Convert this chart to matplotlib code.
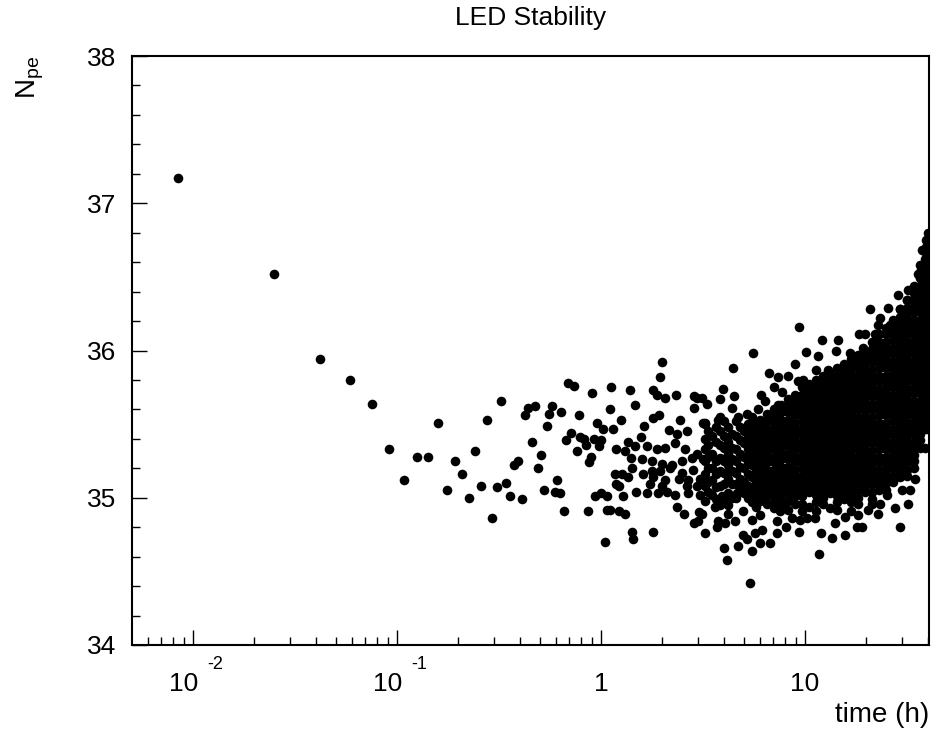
import numpy as np
import matplotlib
matplotlib.use('Agg')
import matplotlib.pyplot as plt
from matplotlib.ticker import FixedLocator, MultipleLocator, LogLocator, NullFormatter

plt.rcParams['font.family'] = ['Liberation Sans', 'DejaVu Sans']
plt.rcParams['mathtext.fontset'] = 'custom'
plt.rcParams['mathtext.rm'] = 'Liberation Sans'
plt.rcParams['mathtext.it'] = 'Liberation Sans'

# first hour, one point per minute
early_t = [0.00844, 0.0249, 0.042, 0.0589, 0.0754, 0.0916, 0.1086, 0.125, 0.142, 0.158,
           0.175, 0.192, 0.209, 0.225, 0.242, 0.259, 0.275, 0.292, 0.308, 0.325,
           0.342, 0.358, 0.375, 0.391, 0.410, 0.426, 0.440, 0.459, 0.477, 0.491,
           0.509, 0.526, 0.542, 0.558, 0.575, 0.593, 0.607, 0.628, 0.639, 0.656,
           0.676, 0.692, 0.710, 0.738, 0.760, 0.778, 0.789, 0.826, 0.844, 0.861,
           0.877, 0.891, 0.906, 0.925, 0.938, 0.960, 0.975, 1.000, 1.003, 1.026,
           1.04, 1.066, 1.066]
early_n = [37.17, 36.52, 35.94, 35.80, 35.64, 35.33, 35.12, 35.28, 35.28, 35.51,
           35.05, 35.25, 35.16, 35.00, 35.32, 35.08, 35.53, 34.86, 35.07, 35.66,
           35.10, 35.01, 35.22, 35.25, 34.99, 35.56, 35.61, 35.38, 35.62, 35.20,
           35.29, 35.05, 35.49, 35.57, 35.62, 35.04, 35.12, 35.03, 35.58, 34.91,
           35.39, 35.78, 35.44, 35.76, 35.32, 35.56, 35.41, 35.40, 35.36, 34.91,
           35.24, 35.28, 35.71, 35.40, 35.01, 35.51, 35.35, 35.39, 35.03, 35.47,
           34.70, 35.01, 34.92]

# 1 h - 3 h
mid_points = [(1.98, 35.92), (1.95, 35.82), (1.12, 35.75), (1.38, 35.73), (1.79, 35.73),
              (1.89, 35.70), (2.06, 35.68), (2.32, 35.70), (2.95, 35.68), (3.30, 35.64),
              (2.86, 35.61), (1.11, 35.60), (1.47, 35.63), (1.25, 35.53), (1.14, 35.47),
              (1.63, 35.49), (1.80, 35.54), (1.93, 35.56), (2.44, 35.53), (3.17, 35.51),
              (2.15, 35.46), (2.35, 35.43), (2.63, 35.45), (1.57, 35.41), (1.35, 35.38),
              (1.47, 35.35), (1.68, 35.35), (1.88, 35.33), (2.06, 35.34), (2.30, 35.37),
              (1.18, 35.33), (1.31, 35.32), (2.58, 35.33), (2.95, 35.30), (1.40, 35.27),
              (1.58, 35.26), (1.77, 35.25), (1.98, 35.23), (2.22, 35.22), (2.49, 35.25),
              (2.78, 35.27), (3.17, 35.26), (1.41, 35.20), (1.77, 35.18), (1.95, 35.18),
              (2.18, 35.20), (2.49, 35.17), (2.83, 35.19), (1.17, 35.16), (1.26, 35.16),
              (1.36, 35.14), (1.61, 35.16), (1.80, 35.14), (2.06, 35.12), (2.42, 35.13),
              (2.68, 35.12), (3.06, 35.13), (1.18, 35.09), (1.22, 35.08), (1.74, 35.09),
              (1.98, 35.08), (2.63, 35.08), (2.95, 35.08), (1.48, 35.04), (1.68, 35.03),
              (1.91, 35.03), (2.10, 35.04), (2.30, 35.02), (2.68, 35.03), (3.06, 35.02),
              (1.28, 35.01), (2.35, 34.94), (1.10, 34.92), (1.23, 34.91), (1.31, 34.89),
              (2.56, 34.89), (3.03, 34.90), (2.86, 34.83), (2.99, 34.84), (1.42, 34.77),
              (1.80, 34.77), (1.44, 34.72), (3.23, 34.76), (2.86, 35.69)]

# 3 h - 10 h, outliers around the core
late_points = [(9.38, 36.16), (5.54, 35.98), (10.12, 35.99), (4.42, 35.88), (8.94, 35.91),
               (6.69, 35.85), (7.35, 35.82), (8.29, 35.83), (9.21, 35.79), (7.05, 35.75),
               (3.95, 35.74), (3.12, 35.68), (3.83, 35.67), (4.49, 35.69), (6.09, 35.70),
               (6.37, 35.66), (7.69, 35.72), (4.39, 35.61), (5.18, 35.57), (5.91, 35.60),
               (6.62, 35.56), (7.38, 35.63), (3.23, 35.51), (3.75, 35.53), (4.71, 35.55),
               (4.63, 35.03), (3.91, 35.01), (3.62, 34.94), (3.12, 34.89), (4.20, 34.95),
               (7.98, 34.97), (7.54, 34.91), (8.66, 34.86), (9.44, 34.85), (10.2, 34.86),
               (4.20, 34.89), (3.75, 34.84), (4.54, 34.84), (4.98, 34.91), (5.47, 34.85),
               (6.02, 34.88), (7.26, 34.84), (8.07, 34.80), (3.68, 34.80), (4.06, 34.83),
               (4.98, 34.75), (5.69, 34.76), (6.13, 34.78), (7.26, 34.76), (9.34, 34.77),
               (5.18, 34.72), (6.02, 34.69), (6.74, 34.69), (4.01, 34.66), (4.71, 34.67),
               (5.47, 34.64), (4.16, 34.58), (5.37, 34.42)]

# 10 h - 40 h, points on the edge of the dense band
edge_points = [(11.73, 34.62), (29.2, 34.80), (38.8, 35.34), (11.98, 34.76), (13.6, 34.73),
               (15.7, 34.75), (18.98, 34.80), (17.9, 34.80), (10.4, 34.94), (11.2, 34.86),
               (15.7, 34.87), (18.26, 34.88), (20.45, 34.92), (22.9, 34.89), (23.3, 34.96),
               (27.6, 34.93), (32.1, 34.96), (29.8, 35.05), (32.7, 35.05), (34.6, 35.13),
               (14.0, 34.83), (13.27, 34.93), (25.2, 35.02), (21.2, 34.96), (13.0, 35.87),
               (12.07, 36.07), (14.56, 36.07), (14.20, 36.00), (16.6, 35.98), (11.6, 35.96),
               (11.33, 35.87), (20.85, 36.28), (25.5, 36.29), (23.2, 36.22), (22.7, 36.17),
               (18.45, 36.11), (19.70, 36.11), (19.3, 36.02), (22.06, 36.11), (26.1, 36.17),
               (29.2, 36.28), (28.5, 36.38), (32.1, 36.41), (31.5, 36.34), (30.9, 36.23),
               (35.9, 36.52), (37.3, 36.68), (40.0, 36.80), (38.8, 36.62), (35.3, 36.34),
               (18.98, 35.91), (17.9, 35.96), (16.6, 35.89), (9.77, 35.80)]

# dense band, read column by column
core_t = [3.23, 3.36, 3.50, 3.66, 3.83, 4.00, 4.19, 4.39, 4.59, 4.80, 5.02, 5.25, 5.49, 5.75,
          6.02, 6.51, 7.05, 7.63, 8.26, 8.94, 9.67, 10.47, 11.33, 12.26, 13.27, 14.36,
          15.54, 16.82, 18.20, 19.70, 21.3, 23.1, 25.0, 27.0, 29.2, 31.6, 34.2, 36.6, 39.2]
core_n = [
    [35.50, 35.40, 35.33, 35.25, 35.16, 35.08, 34.98],
    [35.45, 35.36, 35.28, 35.20, 35.11, 35.04],
    [35.42, 35.30, 35.20, 35.12, 35.02],
    [35.48, 35.38, 35.25, 35.16, 35.07, 34.99],
    [35.55, 35.45, 35.36, 35.27, 35.18, 35.08, 34.95],
    [35.52, 35.42, 35.34, 35.25, 35.17, 35.09, 34.99],
    [35.48, 35.38, 35.30, 35.22, 35.13, 35.03],
    [35.43, 35.34, 35.26, 35.18, 35.09, 35.00],
    [35.52, 35.42, 35.33, 35.25, 35.17, 35.09, 35.00],
    [35.48, 35.39, 35.30, 35.21, 35.13, 35.05],
    [35.45, 35.37, 35.28, 35.20, 35.11, 35.03],
    [35.50, 35.41, 35.33, 35.24, 35.16, 35.08, 35.00],
    [35.55, 35.47, 35.38, 35.30, 35.22, 35.14, 35.05, 34.97],
    [35.51, 35.43, 35.35, 35.27, 35.18, 35.10, 35.01, 34.94],
    [35.53, 35.49, 35.44, 35.40, 35.35, 35.31, 35.26, 35.22, 35.17, 35.12, 35.08, 35.03, 34.98],
    [35.57, 35.52, 35.47, 35.42, 35.38, 35.33, 35.29, 35.24, 35.19, 35.15, 35.10, 35.06, 35.01, 34.96],
    [35.60, 35.55, 35.51, 35.46, 35.42, 35.37, 35.33, 35.28, 35.24, 35.19, 35.15, 35.10, 35.06, 35.01, 34.97, 34.93],
    [35.63, 35.58, 35.53, 35.49, 35.44, 35.40, 35.35, 35.31, 35.26, 35.21, 35.17, 35.12, 35.08, 35.03, 34.99, 34.95],
    [35.67, 35.62, 35.58, 35.53, 35.49, 35.44, 35.39, 35.35, 35.30, 35.26, 35.21, 35.17, 35.12, 35.07, 35.03, 34.98, 34.92],
    [35.70, 35.65, 35.60, 35.56, 35.51, 35.47, 35.42, 35.37, 35.33, 35.28, 35.24, 35.19, 35.15, 35.10, 35.05, 35.01, 34.96],
    [35.75, 35.70, 35.66, 35.61, 35.56, 35.52, 35.47, 35.43, 35.38, 35.34, 35.29, 35.24, 35.20, 35.15, 35.11, 35.06, 35.01, 34.96, 34.91],
    [35.77, 35.73, 35.68, 35.63, 35.59, 35.54, 35.50, 35.45, 35.40, 35.36, 35.31, 35.27, 35.22, 35.18, 35.13, 35.08, 35.04],
    [35.80, 35.75, 35.71, 35.66, 35.61, 35.57, 35.52, 35.48, 35.43, 35.39, 35.34, 35.29, 35.25, 35.20, 35.16, 35.11, 35.06, 35.02, 34.97, 34.91],
    [35.83, 35.78, 35.73, 35.69, 35.64, 35.60, 35.55, 35.51, 35.46, 35.41, 35.37, 35.32, 35.28, 35.23, 35.18, 35.14, 35.09, 35.05, 35.00, 34.96],
    [35.85, 35.81, 35.76, 35.71, 35.67, 35.62, 35.58, 35.53, 35.49, 35.44, 35.39, 35.35, 35.30, 35.26, 35.21, 35.16, 35.12, 35.07, 35.03],
    [35.88, 35.83, 35.79, 35.74, 35.70, 35.65, 35.60, 35.56, 35.51, 35.47, 35.42, 35.38, 35.33, 35.28, 35.24, 35.19, 35.15, 35.10, 35.05, 35.01, 34.97, 34.92],
    [35.91, 35.86, 35.82, 35.77, 35.72, 35.68, 35.63, 35.59, 35.54, 35.50, 35.45, 35.40, 35.36, 35.31, 35.27, 35.22, 35.17, 35.13, 35.08, 35.04, 34.99],
    [35.94, 35.89, 35.84, 35.80, 35.75, 35.71, 35.66, 35.62, 35.57, 35.52, 35.48, 35.43, 35.39, 35.34, 35.29, 35.25, 35.20, 35.16, 35.11, 35.06, 35.02, 34.97, 34.91],
    [35.97, 35.92, 35.88, 35.83, 35.78, 35.74, 35.69, 35.65, 35.60, 35.55, 35.51, 35.46, 35.42, 35.37, 35.33, 35.28, 35.23, 35.19, 35.14, 35.10, 35.05, 35.00, 34.96],
    [36.00, 35.95, 35.91, 35.86, 35.82, 35.77, 35.72, 35.68, 35.63, 35.59, 35.54, 35.49, 35.45, 35.40, 35.36, 35.31, 35.27, 35.22, 35.17, 35.13, 35.08, 35.04],
    [36.06, 36.01, 35.97, 35.92, 35.87, 35.83, 35.78, 35.74, 35.69, 35.64, 35.60, 35.55, 35.51, 35.46, 35.42, 35.37, 35.32, 35.28, 35.23, 35.19, 35.14, 35.09, 35.04, 34.99],
    [36.11, 36.06, 36.02, 35.97, 35.93, 35.88, 35.83, 35.79, 35.74, 35.70, 35.65, 35.60, 35.56, 35.51, 35.47, 35.42, 35.38, 35.33, 35.28, 35.24, 35.19, 35.15, 35.10, 35.05],
    [36.15, 36.11, 36.06, 36.01, 35.97, 35.92, 35.88, 35.83, 35.78, 35.74, 35.69, 35.65, 35.60, 35.56, 35.51, 35.46, 35.42, 35.37, 35.33, 35.28, 35.23, 35.19, 35.14, 35.10, 35.05],
    [36.21, 36.16, 36.12, 36.07, 36.02, 35.98, 35.93, 35.89, 35.84, 35.80, 35.75, 35.70, 35.66, 35.61, 35.57, 35.52, 35.47, 35.43, 35.38, 35.34, 35.29, 35.25, 35.20, 35.15, 35.11],
    [36.28, 36.23, 36.19, 36.14, 36.09, 36.05, 36.00, 35.96, 35.91, 35.87, 35.82, 35.77, 35.73, 35.68, 35.64, 35.59, 35.54, 35.50, 35.45, 35.41, 35.36, 35.32, 35.27, 35.22, 35.18, 35.14],
    [36.34, 36.29, 36.25, 36.20, 36.16, 36.11, 36.06, 36.02, 35.97, 35.93, 35.88, 35.84, 35.79, 35.74, 35.70, 35.65, 35.61, 35.56, 35.51, 35.47, 35.42, 35.38, 35.33, 35.29, 35.24, 35.19, 35.15],
    [36.44, 36.39, 36.35, 36.30, 36.26, 36.21, 36.16, 36.12, 36.07, 36.03, 35.98, 35.93, 35.89, 35.84, 35.80, 35.75, 35.71, 35.66, 35.61, 35.57, 35.52, 35.48, 35.43, 35.38, 35.34, 35.29, 35.25, 35.20],
    [36.58, 36.53, 36.49, 36.44, 36.40, 36.35, 36.30, 36.26, 36.21, 36.17, 36.12, 36.07, 36.03, 35.98, 35.94, 35.89, 35.85, 35.80, 35.75, 35.71, 35.66, 35.62, 35.57, 35.52, 35.48, 35.43, 35.39, 35.34],
    [36.75, 36.70, 36.66, 36.61, 36.57, 36.52, 36.47, 36.43, 36.38, 36.34, 36.29, 36.24, 36.20, 36.15, 36.11, 36.06, 36.01, 35.97, 35.92, 35.88, 35.83, 35.79, 35.74, 35.69, 35.65, 35.60, 35.56, 35.51, 35.47],
]

xtick_vals = [0.01, 0.1, 1, 10]
xtick_base = ['10', '10', '1', '10']
xtick_exp = ['-2', '-1', '', '']

# collect everything
t_all = list(early_t)
n_all = list(early_n)
for pts in (mid_points, late_points, edge_points):
    t_all += [p[0] for p in pts]
    n_all += [p[1] for p in pts]
for t, col in zip(core_t, core_n):
    t_all += [t] * len(col)
    n_all += col

fig = plt.figure(figsize=(9.33, 7.31), dpi=100)
ax = fig.add_axes([132/933, 86/731, 797/933, 589/731])

ax.scatter(t_all, n_all, s=48, c='black', linewidths=0, zorder=3)

ax.set_xscale('log')
ax.set_xlim(0.00502, 40.5)
ax.set_ylim(34, 38)

ax.xaxis.set_major_locator(FixedLocator(xtick_vals))
ax.xaxis.set_major_formatter(NullFormatter())
ax.xaxis.set_minor_locator(LogLocator(base=10, subs=range(2, 10), numticks=20))
ax.xaxis.set_minor_formatter(NullFormatter())
ax.yaxis.set_major_locator(MultipleLocator(1))
ax.yaxis.set_minor_locator(MultipleLocator(0.2))

ax.tick_params(which='both', direction='in', top=False, right=False, width=1)
ax.tick_params(which='major', length=11)
ax.tick_params(which='minor', length=5.5)
ax.tick_params(axis='y', labelsize=19, pad=11.5)
for sp in ax.spines.values():
    sp.set_linewidth(1.5)

for v, b, e in zip(xtick_vals, xtick_base, xtick_exp):
    if e:
        ax.annotate(b, xy=(v, 0), xycoords=('data', 'axes fraction'), xytext=(3.5, -33),
                    textcoords='offset points', ha='right', va='baseline', fontsize=19)
        ax.annotate(e, xy=(v, 0), xycoords=('data', 'axes fraction'), xytext=(10, -17.5),
                    textcoords='offset points', ha='left', va='baseline', fontsize=13)
    else:
        ax.annotate(b, xy=(v, 0), xycoords=('data', 'axes fraction'), xytext=(0, -33),
                    textcoords='offset points', ha='center', va='baseline', fontsize=19)

fig.text(531/933, 1 - 25/731, 'LED Stability', ha='center', va='baseline', fontsize=19)
fig.text(929/933, 1 - 722/731, 'time (h)', ha='right', va='baseline', fontsize=20)
fig.text(30/933, 1 - 56/731, r'$\mathrm{N}_{\mathrm{pe}}$', rotation=90, ha='center', va='top', fontsize=20)

fig.savefig('out.png', dpi=100)
